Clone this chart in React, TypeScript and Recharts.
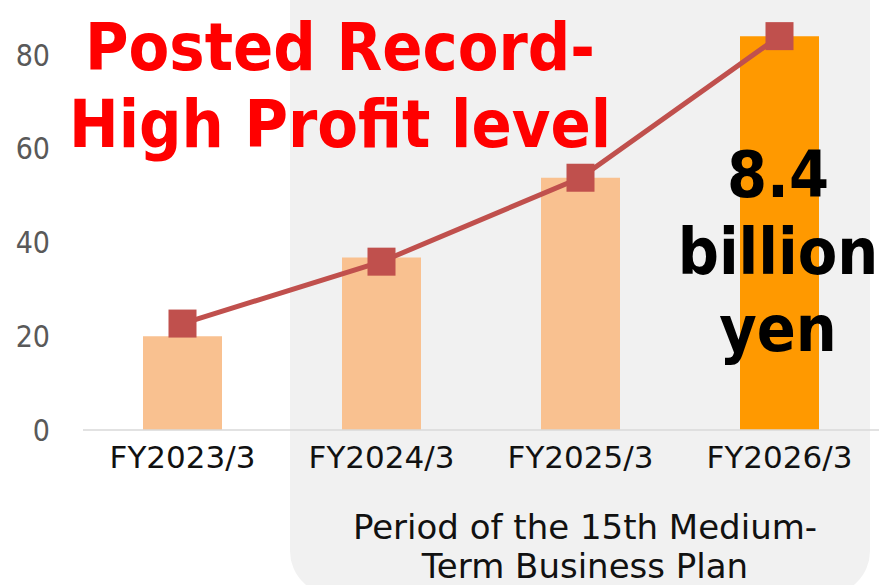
import { ComposedChart, Bar, Line, XAxis, YAxis, Cell } from 'recharts'

const categories = ['FY2023/3', 'FY2024/3', 'FY2025/3', 'FY2026/3']
const barValues = [20, 36.8, 53.8, 84]
const lineValues = [22.7, 35.9, 53.8, 84]
const barColors = ['#f9c190', '#f9c190', '#f9c190', '#ff9900']
const yTicks = [0, 20, 40, 60, 80]
const titleLines = ['Posted Record-', 'High Profit level']
const resultLines = ['8.4', 'billion', 'yen']
const periodLines = ['Period of the 15th Medium-', 'Term Business Plan']

const data = categories.map((name, i) => ({ name, bar: barValues[i], line: lineValues[i] }))

const condensed = "'DejaVu Sans Condensed', 'DejaVu Sans', sans-serif"
const sans = "'DejaVu Sans', sans-serif"

const SquareDot = (props: any) => {
   const { cx, cy } = props
   if (cx == null || cy == null) return null
   return <rect x={cx - 14} y={cy - 14} width={28} height={28} fill='#c0504d' />
}

export default function App() {
   return (
      <div style={{ position: 'absolute', left: 0, top: 0, width: 890, height: 585, overflow: 'hidden', background: '#fff' }}>
         {/* shaded medium-term plan period */}
         <div style={{ position: 'absolute', left: 290, top: -50, width: 580, height: 645, background: '#f1f1f1', borderRadius: 44 }} />
         <div style={{ position: 'absolute', left: 0, top: 0 }}>
            <ComposedChart width={890} height={585} data={data} margin={{ top: 8, right: 11, left: 0, bottom: 95 }}>
               <XAxis
                  dataKey='name'
                  height={60}
                  tickLine={false}
                  tickSize={0}
                  tickMargin={16}
                  axisLine={{ stroke: '#d9d9d9', strokeWidth: 1.5 }}
                  tick={{ fill: '#111', fontSize: 31, fontFamily: sans }}
               />
               <YAxis
                  width={83}
                  domain={[0, 90]}
                  ticks={yTicks}
                  axisLine={false}
                  tickLine={false}
                  tickSize={0}
                  tickMargin={33}
                  tick={{ fill: '#595959', fontSize: 30, fontFamily: condensed }}
               />
               <Bar dataKey='bar' barSize={79} isAnimationActive={false}>
                  {data.map((d, i) => <Cell key={d.name} fill={barColors[i]} />)}
               </Bar>
               <Line
                  dataKey='line'
                  type='linear'
                  stroke='#c0504d'
                  strokeWidth={5}
                  dot={<SquareDot />}
                  activeDot={false}
                  isAnimationActive={false}
               />
            </ComposedChart>
         </div>
         <svg width={890} height={585} style={{ position: 'absolute', left: 0, top: 0, pointerEvents: 'none' }}>
            {titleLines.map((t, i) => (
               <text key={t} x={340} y={70 + i * 77} textAnchor='middle' fill='#ff0000' fontSize={66} fontWeight='bold' fontFamily={condensed}>{t}</text>
            ))}
            {resultLines.map((t, i) => (
               <text key={t} x={778} y={197 + i * 77} textAnchor='middle' fill='#000' fontSize={64} fontWeight='bold' fontFamily={condensed}>{t}</text>
            ))}
            {periodLines.map((t, i) => (
               <text key={t} x={585} y={539 + i * 39} textAnchor='middle' fill='#111' fontSize={34} fontFamily={sans}>{t}</text>
            ))}
         </svg>
      </div>
   )
}
